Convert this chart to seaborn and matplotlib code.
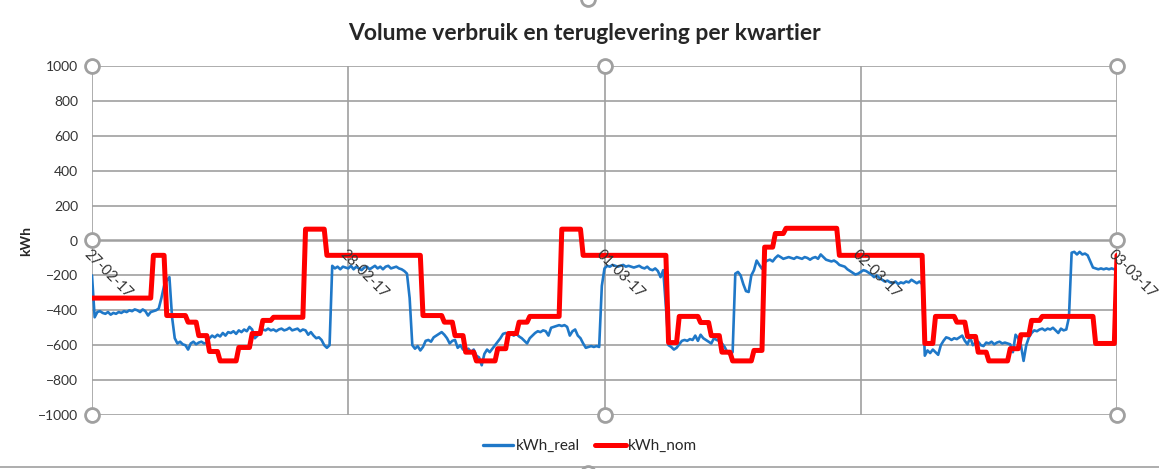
import numpy as np
import pandas as pd
import matplotlib.pyplot as plt
import seaborn as sns
from matplotlib.lines import Line2D

# dag labels (één per dag, 96 kwartieren per dag)
day_labels = ["27-02-17", "28-02-17", "01-03-17", "02-03-17", "03-03-17"]
quarters_per_day = 96

# gemeten verbruik per kwartier (kWh_real)
real_day1 = [-200, -440, -410, -405, -415, -420, -410, -425, -415, -420, -410, -415,
             -405, -410, -400, -405, -395, -400, -410, -395, -405, -430, -410, -405,
             -400, -390, -330, -260, -230, -210, -440, -560, -590, -580, -595, -600,
             -625, -590, -580, -595, -585, -580, -590, -585, -560, -545, -555, -540,
             -550, -530, -545, -525, -530, -520, -535, -515, -525, -510, -520, -495,
             -510, -560, -545, -520, -510, -515, -505, -515, -510, -520, -510, -505,
             -515, -510, -500, -515, -510, -505, -520, -510, -515, -540, -525, -545,
             -560, -555, -570, -600, -615, -600, -145, -160, -150, -165, -150, -155]
real_day2 = [-160, -145, -165, -150, -160, -170, -155, -150, -165, -155, -145, -160,
             -150, -165, -150, -145, -160, -155, -150, -160, -165, -175, -190, -330,
             -600, -620, -605, -630, -610, -575, -570, -580, -555, -545, -535, -525,
             -540, -560, -590, -575, -570, -615, -600, -625, -630, -620, -640, -625,
             -660, -670, -715, -650, -625, -640, -620, -600, -580, -560, -535, -530,
             -540, -535, -545, -535, -550, -560, -575, -590, -560, -545, -530, -520,
             -525, -515, -520, -545, -500, -495, -490, -485, -490, -485, -495, -545,
             -520, -510, -545, -560, -590, -615, -610, -605, -610, -605, -610, -260]
real_day3 = [-160, -145, -150, -140, -145, -150, -145, -140, -150, -145, -150, -155,
             -150, -145, -155, -160, -150, -165, -170, -160, -175, -210, -170, -380,
             -600, -610, -625, -615, -595, -575, -570, -575, -565, -570, -545, -575,
             -540, -560, -570, -580, -590, -560, -570, -575, -590, -610, -640, -655,
             -640, -190, -180, -200, -250, -290, -295, -200, -170, -115, -140, -162,
             -125, -115, -110, -120, -100, -86, -95, -105, -100, -95, -100, -105,
             -95, -100, -105, -95, -100, -110, -100, -95, -105, -80, -95, -110,
             -115, -120, -115, -125, -140, -145, -150, -165, -175, -185, -195, -190]
real_day4 = [-180, -170, -175, -185, -195, -210, -200, -215, -225, -235, -230, -240,
             -245, -235, -250, -240, -245, -235, -240, -225, -235, -245, -235, -250,
             -660, -630, -645, -625, -640, -655, -600, -575, -555, -560, -570, -560,
             -565, -555, -545, -575, -595, -555, -600, -585, -580, -600, -605, -585,
             -590, -580, -595, -585, -580, -590, -585, -590, -595, -640, -540, -560,
             -600, -690, -600, -555, -530, -515, -520, -510, -505, -515, -505, -510,
             -500, -515, -530, -505, -515, -510, -440, -70, -65, -80, -65, -80,
             -75, -85, -120, -155, -160, -165, -160, -165, -160, -165, -160, -165,
             -160]

# nominatie: blokken (niveau, aantal kwartieren) (kWh_nom)
nom_levels = [-330, -85, -430, -468, -545, -636, -690, -613, -533, -458, -440, 65, -85,
              -430, -468, -545, -640, -690, -620, -533, -468, -435, 65, -85,
              -585, -435, -470, -545, -640, -690, -630, -38, 40, 70, -85,
              -590, -435, -468, -550, -640, -690, -620, -540, -458, -435, -590, -85]
nom_lengths = [23, 5, 8, 4, 4, 4, 7, 5, 4, 4, 12, 8, 36,
               8, 4, 4, 4, 8, 4, 4, 4, 12, 8, 32,
               4, 8, 4, 4, 4, 8, 4, 4, 4, 20, 32,
               4, 8, 4, 4, 4, 8, 4, 4, 4, 20, 8, 1]

real = real_day1 + real_day2 + real_day3 + real_day4
nom = np.repeat(nom_levels, nom_lengths)
q = np.arange(len(real))

df = pd.DataFrame({"kwartier": q, "kWh_real": real, "kWh_nom": nom})

sns.set_style("white")
plt.rcParams["font.family"] = ["Lato", "DejaVu Sans"]

fig = plt.figure(figsize=(11.59, 4.69), dpi=100)
ax = fig.add_axes([92 / 1159, 1 - 415 / 469, (1117 - 92) / 1159, (415 - 66) / 469])

grid_c = "#a0a0a0"
ax.set_ylim(-1000, 1000)
ax.set_xlim(0, len(real) - 1)
ax.set_yticks(range(-1000, 1001, 200))
ax.set_xticks([])
for y in range(-1000, 1001, 200):
    ax.axhline(y, color=grid_c, lw=1.8 if y == 0 else 1.2, zorder=1)
for i in range(len(day_labels)):
    ax.axvline(i * quarters_per_day, color=grid_c, lw=1.2, zorder=1)
for s in ax.spines.values():
    s.set_visible(False)

sns.lineplot(data=df, x="kwartier", y="kWh_real", ax=ax, color="#1f78c8",
             linewidth=1.9, estimator=None, zorder=3)
sns.lineplot(data=df, x="kwartier", y="kWh_nom", ax=ax, color="#ff0000",
             linewidth=3.6, estimator=None, zorder=4)

ax.tick_params(axis="y", length=0, pad=10, labelsize=10, labelcolor="#333333")
ax.set_xlabel("")
ax.set_ylabel("kWh", fontsize=10, fontweight="bold")
ax.yaxis.set_label_coords((32 - 92) / 1025, 0.5)

for i, lab in enumerate(day_labels):
    ax.annotate(lab, xy=(i * quarters_per_day, 0), xytext=(-1, -5),
                textcoords="offset points", ha="left", va="top",
                rotation=-45, rotation_mode="anchor", fontsize=10.5,
                color="#333333", annotation_clip=False, zorder=5)

ax.set_title("Volume verbruik en teruglevering per kwartier",
             fontsize=16.5, fontweight="bold", pad=19, x=0.48)

# selectiegrepen van het grafiekgebied
for hx, hy in [(0, 1), (0.5, 1), (1, 1), (0, 0.5), (1, 0.5), (0, 0), (0.5, 0), (1, 0)]:
    ax.plot(hx, hy, "o", transform=ax.transAxes, ms=10, mfc="white",
            mec="#a0a0a0", mew=2, clip_on=False, zorder=6)

fig.add_artist(Line2D([0, 1], [1 - 467 / 469] * 2, transform=fig.transFigure,
                      color="#a0a0a0", lw=1.2))
for hx, hy in [(588 / 1159, 1 + 1 / 469), (588 / 1159, 1 - 473 / 469)]:
    fig.add_artist(Line2D([hx], [hy], marker="o", ms=10, mfc="white",
                          mec="#a0a0a0", mew=2, transform=fig.transFigure))

handles = [Line2D([], [], color="#1f78c8", lw=2.4),
           Line2D([], [], color="#ff0000", lw=3.6)]
fig.legend(handles, ["kWh_real", "kWh_nom"], loc="center",
           bbox_to_anchor=(590 / 1159, 1 - 446 / 469), ncol=2, frameon=False,
           fontsize=11, handlelength=2.0, handletextpad=0.15, columnspacing=1.0)

fig.savefig("out.png", dpi=100)
